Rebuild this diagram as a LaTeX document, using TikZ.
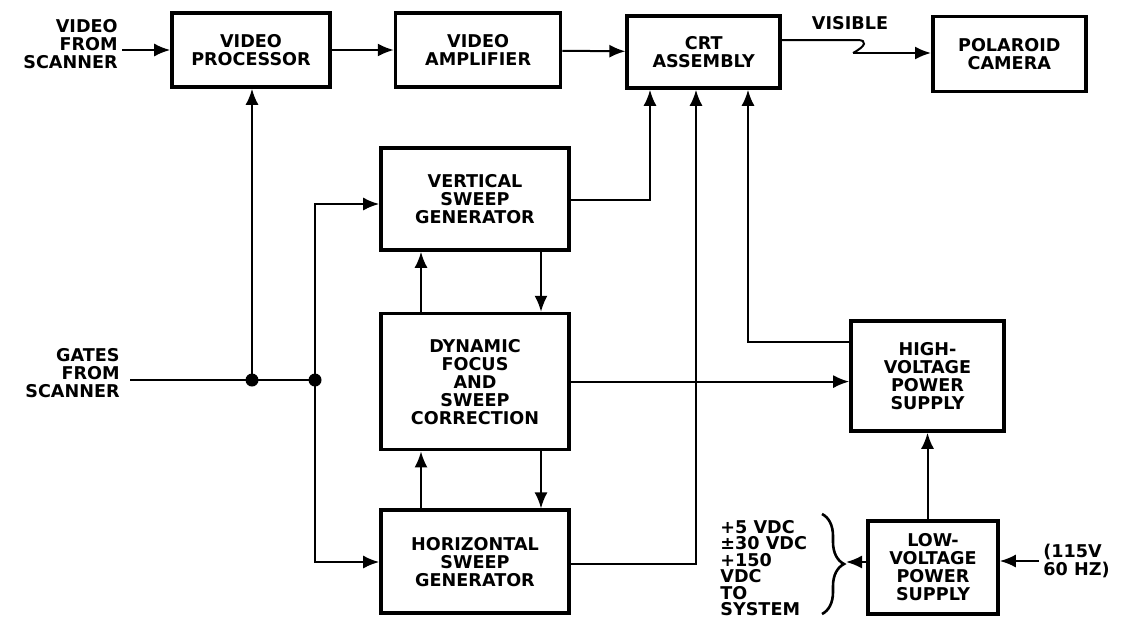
\documentclass[tikz,border=0pt]{standalone}
\usepackage{fontspec}
\setmainfont{DejaVu Sans}
\usetikzlibrary{arrows.meta, positioning, decorations.pathreplacing}

\begin{document}
\begin{tikzpicture}[x=0.5pt, y=-0.5pt, >={Latex[length=8pt,width=6.5pt]},
    every node/.style={align=center, font=\bfseries\fontsize{8.8}{9}\selectfont},
    blk/.style={rectangle, draw, line width=1.8pt, inner sep=1pt},
    lbl/.style={inner sep=0pt},
    wire/.style={line width=1pt},
    dot/.style={circle, fill, inner sep=0pt, minimum size=6.5pt}]
  \fill[white] (0,0) rectangle (1134,628);
  \useasboundingbox (0,0) rectangle (1134,628);

  % top row
  \node (vp) [blk, minimum width=79pt, minimum height=37pt] at (251,50) {VIDEO\\PROCESSOR};
  \node (va) [blk, minimum width=82.5pt, minimum height=37pt, right=31pt of vp] {VIDEO\\AMPLIFIER};
  \node (crt) [blk, minimum width=76.5pt, minimum height=36pt, right=31.5pt of va, yshift=-1pt] {CRT\\ASSEMBLY};
  \node (pol) [blk, minimum width=76.5pt, minimum height=37.5pt, right=74.5pt of crt, yshift=-1pt] {POLAROID\\CAMERA};

  % sweep column
  \node (vsg) [blk, minimum width=94pt, minimum height=51pt] at (475,199) {VERTICAL\\SWEEP\\GENERATOR};
  \node (dfsc) [blk, minimum width=94pt, minimum height=68pt, below=30pt of vsg] {DYNAMIC\\FOCUS\\AND\\SWEEP\\CORRECTION};
  \node (hsg) [blk, minimum width=94pt, minimum height=51.5pt, below=28.5pt of dfsc] {HORIZONTAL\\SWEEP\\GENERATOR};

  % power supplies
  \node (hv) [blk, minimum width=76.5pt, minimum height=55pt] at (927.5,376) {HIGH-\\VOLTAGE\\POWER\\SUPPLY};
  \node (lv) [blk, minimum width=65pt, minimum height=46.5pt] at (933,567.5) {LOW-\\VOLTAGE\\POWER\\SUPPLY};

  % outside labels
  \node (vidin) [lbl, anchor=east, align=right] at (118,44) {VIDEO\\FROM\\SCANNER};
  \node (gates) [lbl, anchor=east, align=right] at (120,373) {GATES\\FROM\\SCANNER};
  \node (vis) [lbl] at (850,23) {VISIBLE};
  \node (dcout) [lbl, anchor=west, align=left, font=\bfseries\fontsize{8.8}{8.2}\selectfont] at (720,568) {+5 VDC\\±30 VDC\\+150\\VDC\\TO\\SYSTEM};
  \node (acin) [lbl, anchor=west, align=left] at (1043,561) {(115V\\60 HZ)};

  % video chain
  \draw[wire,->] ([xshift=2pt]vidin.east |- vp.west) -- (vp.west);
  \draw[wire,->] (vp) -- (va);
  \draw[wire,->] (va) -- (crt);
  \coordinate (vz1) at (857,40);
  \coordinate (vz2) at (853,53);
  \draw[wire] (crt.east |- vz1) -- (vz1) .. controls (868,40) and (866,46) .. (vz2);
  \draw[wire,->] (vz2) -- (pol.west |- vz2);

  % gates
  \node (j1) [dot] at (252,380) {};
  \node (j2) [dot] at (315,380) {};
  \coordinate (kv) at (315,204);
  \coordinate (kh) at (315,562);
  \draw[wire] ([xshift=5pt]gates.east |- j1) -- (j1.center) -- (j2.center);
  \draw[wire,->] (j1.center) -- (vp.south -| j1);
  \draw[wire,->] (j2.center) -- (kv) -- (vsg.west |- kv);
  \draw[wire,->] (j2.center) -- (kh) -- (hsg.west |- kh);

  % links inside the sweep column
  \foreach \up/\dn in {vsg/dfsc, dfsc/hsg} {
    \draw[wire,->] ([xshift=-27pt]\dn.north) -- ([xshift=-27pt]\up.south);
    \draw[wire,->] ([xshift=33pt]\up.south) -- ([xshift=33pt]\dn.north);
  }

  % sweeps and high voltage to the CRT
  \coordinate (cv) at (650,200);
  \coordinate (ch) at (696,564);
  \coordinate (chv) at (748,342);
  \draw[wire,->] (vsg.east |- cv) -- (cv) -- (crt.south -| cv);
  \draw[wire,->] (hsg.east |- ch) -- (ch) -- (crt.south -| ch);
  \draw[wire,->] (hv.west |- chv) -- (chv) -- (crt.south -| chv);
  \draw[wire,->] (dfsc.east) -- (hv.west |- dfsc.east);

  % supplies
  \draw[wire,->] (lv.north -| hv.south) -- (hv.south);
  \draw[wire,->] ([xshift=-2pt]acin.west) -- (lv.east |- acin.west);
  \coordinate (bt) at (822,514);
  \coordinate (bb) at (822,614);
  \coordinate (btip) at (846,562);
  \draw[wire, line width=1.3pt, decorate, decoration={brace, amplitude=11pt}] (bt) -- (bb);
  \draw[wire,->] (lv.west |- btip) -- (btip);
\end{tikzpicture}
\end{document}
